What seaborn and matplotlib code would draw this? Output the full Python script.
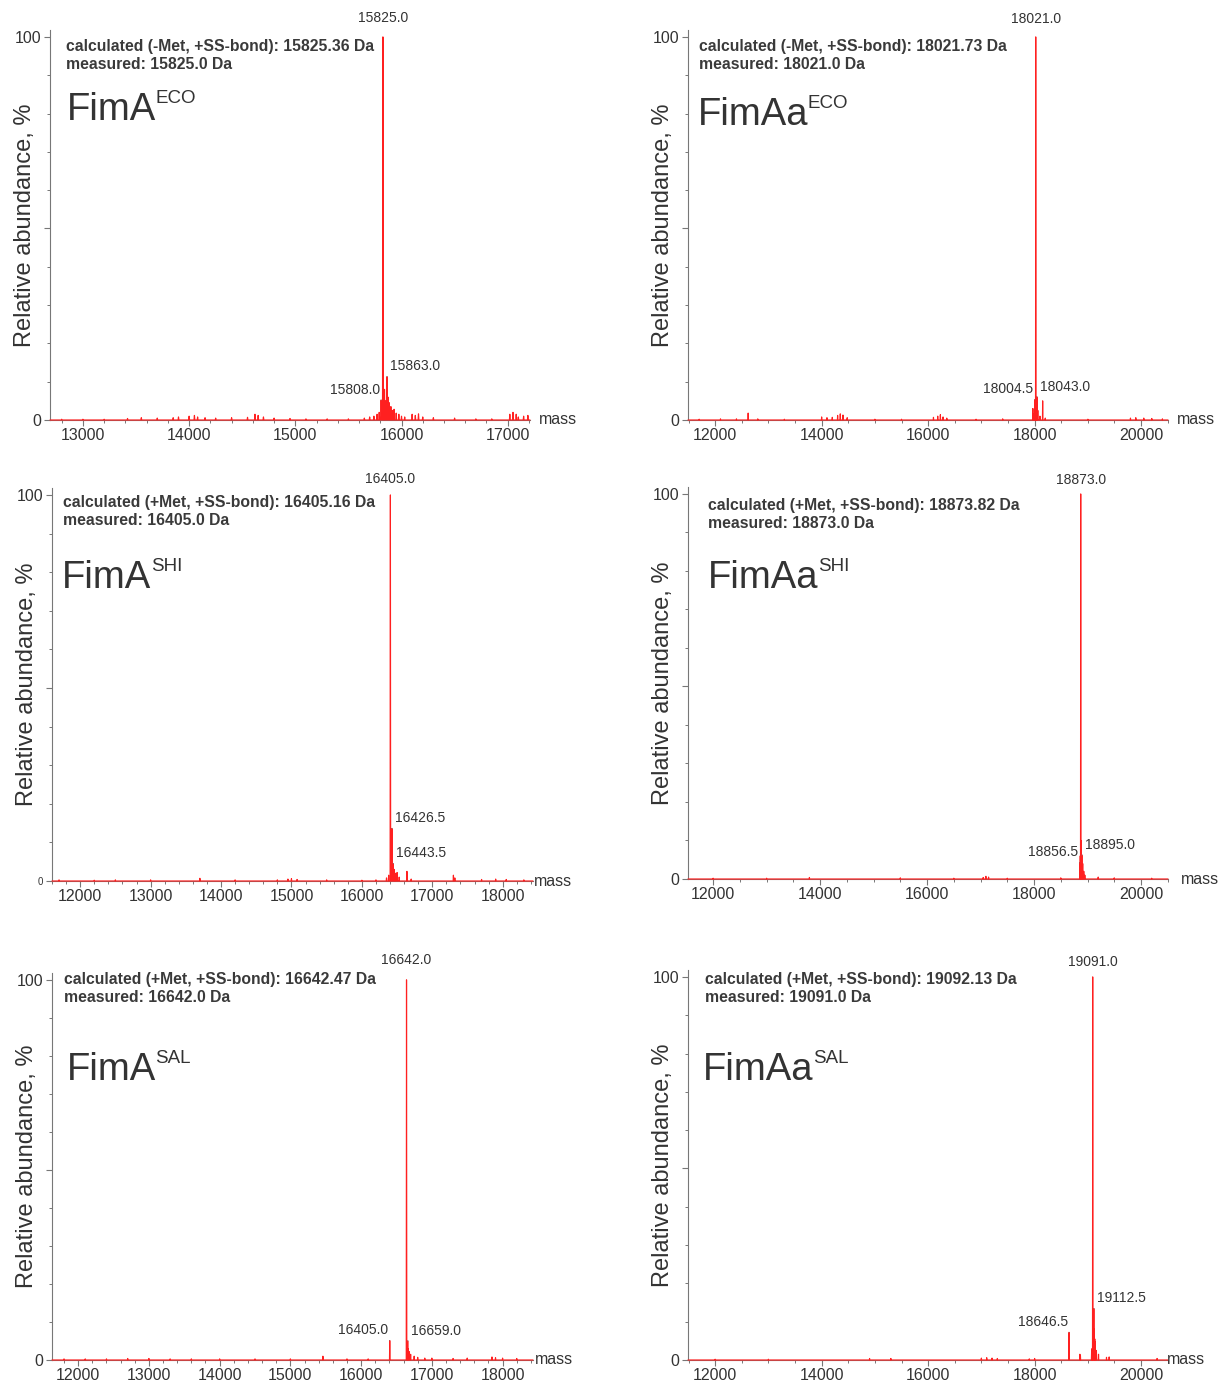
import numpy as np
import pandas as pd
import matplotlib
matplotlib.use('Agg')
import matplotlib.pyplot as plt
from matplotlib.ticker import MultipleLocator, FixedLocator
import seaborn as sns

sns.set_style('ticks')
plt.rcParams['font.family'] = ['Liberation Sans', 'DejaVu Sans']

# ---- data (mass in Da, relative abundance in %) ----
names = ['FimA', 'FimAa', 'FimA', 'FimAa', 'FimA', 'FimAa']
species = ['ECO', 'ECO', 'SHI', 'SHI', 'SAL', 'SAL']
calc_forms = ['-Met, +SS-bond', '-Met, +SS-bond', '+Met, +SS-bond',
              '+Met, +SS-bond', '+Met, +SS-bond', '+Met, +SS-bond']
calc_mass = ['15825.36', '18021.73', '16405.16', '18873.82', '16642.47', '19092.13']
meas_mass = ['15825.0', '18021.0', '16405.0', '18873.0', '16642.0', '19091.0']

mass_ranges = [(12690, 17210), (11490, 20505), (11600, 18430),
               (11530, 20505), (11630, 18430), (11490, 20505)]

fima_eco_mass = [12800, 13000, 13200, 13420, 13550, 13700, 13850, 13900, 14000, 14050,
                 14080, 14150, 14250, 14400, 14550, 14620, 14650, 14700, 14800, 14950,
                 15100, 15300, 15500, 15650, 15700, 15740, 15770, 15790, 15808, 15816,
                 15825, 15840, 15848, 15863, 15872, 15885, 15900, 15915, 15930, 15950,
                 15975, 16000, 16030, 16100, 16130, 16160, 16200, 16300, 16500, 16700,
                 16850, 17020, 17050, 17080, 17100, 17150, 17190]
fima_eco_int = [0.2, 0.2, 0.2, 0.4, 0.6, 0.5, 0.6, 0.8, 1.0, 1.2,
                0.8, 0.6, 0.5, 0.6, 0.7, 1.5, 1.2, 0.8, 0.5, 0.4,
                0.3, 0.3, 0.3, 0.5, 0.8, 1.0, 1.5, 2.0, 5.2, 3.0,
                100, 8.0, 5.0, 11.3, 6.0, 4.5, 3.5, 2.5, 2.8, 1.8,
                1.5, 1.0, 0.8, 1.5, 1.2, 1.6, 0.8, 0.6, 0.5, 0.3,
                0.3, 1.5, 2.0, 1.5, 0.8, 1.0, 1.2]

fimaa_eco_mass = [11700, 12100, 12400, 12620, 12800, 13300, 14000, 14100, 14200, 14300,
                  14350, 14400, 14480, 15000, 15500, 16100, 16180, 16230, 16280, 16350,
                  16900, 17400, 17967, 17985, 18004.5, 18012, 18021, 18030, 18043, 18060,
                  18100, 18151, 18200, 19000, 19800, 19900, 20050, 20200, 20400]
fimaa_eco_int = [0.2, 0.3, 0.3, 1.8, 0.3, 0.2, 0.8, 0.6, 0.7, 1.2,
                 1.6, 1.3, 0.6, 0.2, 0.2, 0.7, 1.0, 1.4, 0.8, 0.5,
                 0.2, 0.3, 3.0, 1.5, 5.3, 4.0, 100, 5.0, 6.0, 2.5,
                 1.0, 5.0, 0.5, 0.2, 0.5, 0.6, 0.5, 0.4, 0.3]

fima_shi_mass = [11700, 12200, 12500, 13000, 13700, 14200, 14800, 14950, 15000, 15080,
                 15500, 16000, 16200, 16350, 16380, 16405, 16426.5, 16443.5, 16460, 16480,
                 16500, 16530, 16640, 16700, 17300, 17320, 17700, 17900, 18050, 18300]
fima_shi_int = [0.3, 0.2, 0.3, 0.3, 0.7, 0.3, 0.3, 0.5, 0.6, 0.4,
                0.3, 0.2, 0.3, 0.8, 1.5, 100, 13.6, 4.5, 3.0, 2.0,
                2.2, 1.0, 2.5, 0.5, 1.5, 0.8, 0.4, 0.5, 0.4, 0.3]

fimaa_shi_mass = [12000, 13000, 13800, 15500, 16500, 17050, 17100, 17150, 17500, 18500,
                  18856.5, 18865, 18873, 18880, 18895, 18910, 18930, 18950, 19200, 19500,
                  20200]
fimaa_shi_int = [0.2, 0.2, 0.4, 0.3, 0.2, 0.4, 0.7, 0.5, 0.2, 0.3,
                 4.2, 6.0, 100, 10.0, 6.2, 4.0, 2.0, 1.0, 0.5, 0.3,
                 0.2]

fima_sal_mass = [11800, 12100, 12400, 12700, 13000, 13300, 13600, 14000, 14500, 15000,
                 15460, 15800, 16100, 16405, 16642, 16659, 16665, 16680, 16700, 16750,
                 16800, 16900, 17000, 17300, 17500, 17850, 17900, 18000, 18200]
fima_sal_int = [0.3, 0.3, 0.3, 0.4, 0.4, 0.3, 0.3, 0.3, 0.3, 0.3,
                1.0, 0.3, 0.3, 5.1, 100, 5.0, 3.0, 2.2, 1.5, 1.0,
                0.7, 0.5, 0.5, 0.4, 0.5, 0.8, 0.6, 0.5, 0.4]

fimaa_sal_mass = [12000, 13000, 14900, 15300, 17000, 17100, 17200, 17300, 17900, 18000,
                  18646.5, 18850, 18860, 19070, 19080, 19091, 19112.5, 19120, 19130, 19140,
                  19160, 19200, 19350, 19400, 20300]
fimaa_sal_int = [0.2, 0.2, 0.4, 0.4, 0.5, 0.6, 0.5, 0.4, 0.3, 0.4,
                 7.2, 1.5, 1.2, 2.0, 3.0, 100, 13.4, 8.0, 5.5, 4.7,
                 2.5, 1.5, 0.7, 0.8, 0.4]

spectra_mass = [fima_eco_mass, fimaa_eco_mass, fima_shi_mass,
                fimaa_shi_mass, fima_sal_mass, fimaa_sal_mass]
spectra_int = [fima_eco_int, fimaa_eco_int, fima_shi_int,
               fimaa_shi_int, fima_sal_int, fimaa_sal_int]

# labelled side peaks: text, mass, height, side of the peak the label sits on
side_labels = [
    [('15808.0', 15808, 5.2, 'left'), ('15863.0', 15863, 11.3, 'right')],
    [('18004.5', 18004.5, 5.3, 'left'), ('18043.0', 18043, 6.0, 'right')],
    [('16426.5', 16426.5, 13.6, 'right'), ('16443.5', 16443.5, 4.5, 'right')],
    [('18856.5', 18856.5, 4.2, 'left'), ('18895.0', 18895, 6.2, 'right')],
    [('16405.0', 16405, 5.1, 'left'), ('16659.0', 16659, 5.0, 'right')],
    [('18646.5', 18646.5, 7.2, 'left'), ('19112.5', 19112.5, 13.4, 'right')],
]

major_step = [1000, 2000, 1000, 2000, 1000, 2000]
minor_step = [200, 500, 200, 500, 200, 500]

# ---- layout (pixels of the 1223x1383 figure) ----
W, H = 1223, 1383
axes_px = [(50, 30, 530, 420), (688, 30, 1168, 420),
           (52, 488, 533, 881), (688, 487, 1168, 879),
           (52, 973, 533, 1360), (688, 970, 1168, 1360)]
# header baselines (px): calculated line, measured line; left offset (axes frac)
calc_px = [(0.033, 51, 69), (0.023, 51, 69), (0.023, 507, 525),
           (0.042, 510, 528), (0.025, 984, 1002), (0.035, 984, 1002)]
name_px = [(0.035, 120), (0.021, 125), (0.021, 588),
           (0.042, 588), (0.031, 1080), (0.031, 1080)]
top_label_off = [8.6, 8.0, 6.5, 5.0, 9.5, 6.0]
mass_x = [1.018, 1.018, 1.001, 1.027, 1.003, 0.998]

text_col = '#333333'
line_col = '#ff2020'
axis_col = '#777777'
y_top = 101.8


def stick_profile(mass, inten, xr, half_width=4):
    order = np.argsort(mass)
    xs, ys = [xr[0]], [0.0]
    for i in order:
        xs += [mass[i] - half_width, mass[i], mass[i] + half_width]
        ys += [0.0, inten[i], 0.0]
    xs.append(xr[1])
    ys.append(0.0)
    return pd.DataFrame({'mass': xs, 'abundance': ys})


fig = plt.figure(figsize=(W / 100, H / 100), dpi=100)

for k in range(6):
    x0, y0, x1, y1 = axes_px[k]
    ax = fig.add_axes([x0 / W, 1 - y1 / H, (x1 - x0) / W, (y1 - y0) / H])
    df = stick_profile(spectra_mass[k], spectra_int[k], mass_ranges[k])
    sns.lineplot(data=df, x='mass', y='abundance', ax=ax, color=line_col,
                 lw=0.85, sort=False, estimator=None, zorder=3, clip_on=False)
    ax.set_xlim(*mass_ranges[k])
    ax.set_ylim(0, y_top)

    for s in ['top', 'right']:
        ax.spines[s].set_visible(False)
    for s in ['left', 'bottom']:
        ax.spines[s].set_color(axis_col)
        ax.spines[s].set_linewidth(0.8)

    # x ticks
    lo = int(np.ceil(mass_ranges[k][0] / major_step[k]) * major_step[k])
    ax.set_xticks(np.arange(lo, mass_ranges[k][1], major_step[k]))
    ax.xaxis.set_minor_locator(MultipleLocator(minor_step[k]))
    ax.tick_params(axis='x', which='major', length=4, width=0.8, color=axis_col,
                   labelsize=11.5, labelcolor=text_col, pad=2)
    ax.tick_params(axis='x', which='minor', length=2.5, width=0.7, color=axis_col)

    # y ticks
    ax.yaxis.set_major_locator(FixedLocator([0, 50, 100]))
    ax.set_yticklabels(['0', '', '100'])
    ax.yaxis.set_minor_locator(FixedLocator([10, 20, 30, 40, 60, 70, 80, 90]))
    ax.tick_params(axis='y', which='major', length=4.5, width=0.8, color=axis_col,
                   labelsize=11.5, labelcolor=text_col, pad=2)
    ax.tick_params(axis='y', which='minor', length=2.5, width=0.7, color=axis_col)
    if k == 2:
        ax.get_yticklabels()[0].set_fontsize(7)

    ax.set_xlabel('')
    ax.set_ylabel('Relative abundance, %', fontsize=17, color=text_col)
    ax.yaxis.set_label_coords(-0.030, 0.5)
    ax.text(mass_x[k], 0, 'mass', transform=ax.transAxes, fontsize=11.5,
            color=text_col, ha='left', va='center')

    # header text
    hgt = y1 - y0
    cx, cb1, cb2 = calc_px[k]
    ax.text(cx, (y1 - cb1) / hgt, f'calculated ({calc_forms[k]}): {calc_mass[k]} Da',
            transform=ax.transAxes, fontsize=11.3, fontweight='bold',
            color='#3a3a3a', va='baseline')
    ax.text(cx, (y1 - cb2) / hgt, f'measured: {meas_mass[k]} Da', transform=ax.transAxes,
            fontsize=11.3, fontweight='bold', color='#3a3a3a', va='baseline')
    nx, nb = name_px[k]
    t = ax.text(nx, (y1 - nb) / hgt, names[k], transform=ax.transAxes, fontsize=27.5,
                color=text_col, va='baseline')
    ax.annotate(species[k], xy=(1, 1.06), xycoords=t, xytext=(-0.5, 0),
                textcoords='offset points', fontsize=13.5, color=text_col,
                ha='left', va='top')

    # main peak label
    m_idx = int(np.argmax(spectra_int[k]))
    top_mass = spectra_mass[k][m_idx]
    ax.annotate(f'{top_mass:.1f}', xy=(top_mass, 100), xytext=(0, top_label_off[k]),
                textcoords='offset points', ha='center', va='bottom',
                fontsize=10, color=text_col, annotation_clip=False)

    # side peak labels with leader lines
    for lab, pm, ph, side in side_labels[k]:
        if side == 'left':
            off, ha, rel = (-1, 2.5), 'right', (1.0, 0.05)
        else:
            off, ha, rel = (2, 2.5), 'left', (0.1, 0.05)
        ax.annotate(lab, xy=(pm, ph), xytext=off, textcoords='offset points',
                    ha=ha, va='bottom', fontsize=10, color=text_col,
                    arrowprops=dict(arrowstyle='-', color='#777777', lw=0.6,
                                    shrinkA=0, shrinkB=0, relpos=rel))

fig.savefig('out.png', dpi=100, facecolor='white')
